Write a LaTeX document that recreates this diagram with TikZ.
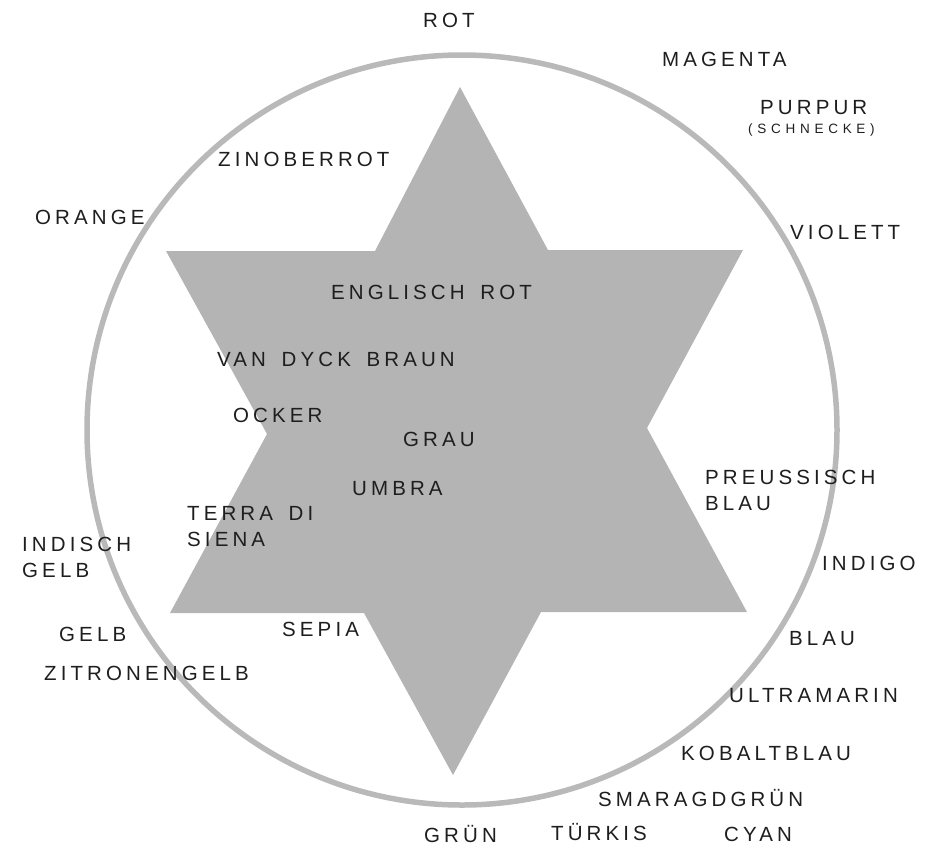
\documentclass[tikz,border=0pt]{standalone}
\usepackage{fontspec}
\usepackage{tikz}
\usetikzlibrary{positioning}
\newfontfamily\farbfont[LetterSpace=20, WordSpace=1.6]{Liberation Sans}
\newfontfamily\kleinfont[LetterSpace=35]{Liberation Sans}
\definecolor{sterngrau}{RGB}{180, 180, 180}
\definecolor{kreisgrau}{RGB}{185, 185, 185}
\definecolor{schrift}{RGB}{30, 30, 30}

\begin{document}
\begin{tikzpicture}[x=1pt, y=-1pt,
    farbe/.style={font=\farbfont\fontsize{20.5}{26}\selectfont, text=schrift,
      inner sep=0pt, anchor=west, align=left},
    klein/.style={farbe, font=\kleinfont\fontsize{13.5}{15}\selectfont}]
  \useasboundingbox (0, 0) rectangle (931, 847);

  % circle and star
  \draw[kreisgrau, line width=5.5pt] (462, 430) circle[radius=375pt];
  \fill[sterngrau] (460, 87) -- (548, 250) -- (743, 250) -- (647, 428)
    -- (747, 612) -- (541, 612) -- (453, 775) -- (364, 613) -- (170, 613)
    -- (267, 434) -- (166, 251) -- (375, 251) -- cycle;

  % outer ring
  \node[farbe] (rot) at (423, 20) {ROT};
  \node[farbe] (magenta) at (662, 59.5) {MAGENTA};
  \node[farbe] (purpur) at (760, 108) {PURPUR};
  \node[klein, anchor=north west] (schnecke) at (748, 123.5) {(SCHNECKE)};
  \node[farbe] (violett) at (790, 232) {VIOLETT};
  \node[farbe] (preussisch) at (705, 490.5) {PREUSSISCH\\BLAU};
  \node[farbe] (indigo) at (822, 563.5) {INDIGO};
  \node[farbe] (blau) at (789, 638.5) {BLAU};
  \node[farbe] (ultramarin) at (729, 695.5) {ULTRAMARIN};
  \node[farbe] (kobalt) at (681, 753.5) {KOBALTBLAU};
  \node[farbe] (smaragd) at (598, 798) {SMARAGDGRÜN};
  \node[farbe] (cyan) at (724, 834.5) {CYAN};
  \node[farbe] (tuerkis) at (551, 832.5) {TÜRKIS};
  \node[farbe] (gruen) at (424, 834.5) {GRÜN};
  \node[farbe] (zitrone) at (44, 673.5) {ZITRONENGELB};
  \node[farbe] (gelb) at (59, 634) {GELB};
  \node[farbe] (indisch) at (22, 557.5) {INDISCH\\GELB};
  \node[farbe] (orange) at (35, 217.5) {ORANGE};
  \node[farbe] (zinober) at (218, 159.5) {ZINOBERROT};

  % inside the star
  \node[farbe] (englisch) at (331, 292) {ENGLISCH ROT};
  \node[farbe] (vandyck) at (217, 359) {VAN DYCK BRAUN};
  \node[farbe] (ocker) at (233, 415.5) {OCKER};
  \node[farbe] (grau) at (403, 439.5) {GRAU};
  \node[farbe] (umbra) at (352, 489) {UMBRA};
  \node[farbe] (terra) at (187, 526.5) {TERRA DI\\SIENA};
  \node[farbe] (sepia) at (282, 629) {SEPIA};
\end{tikzpicture}
\end{document}
